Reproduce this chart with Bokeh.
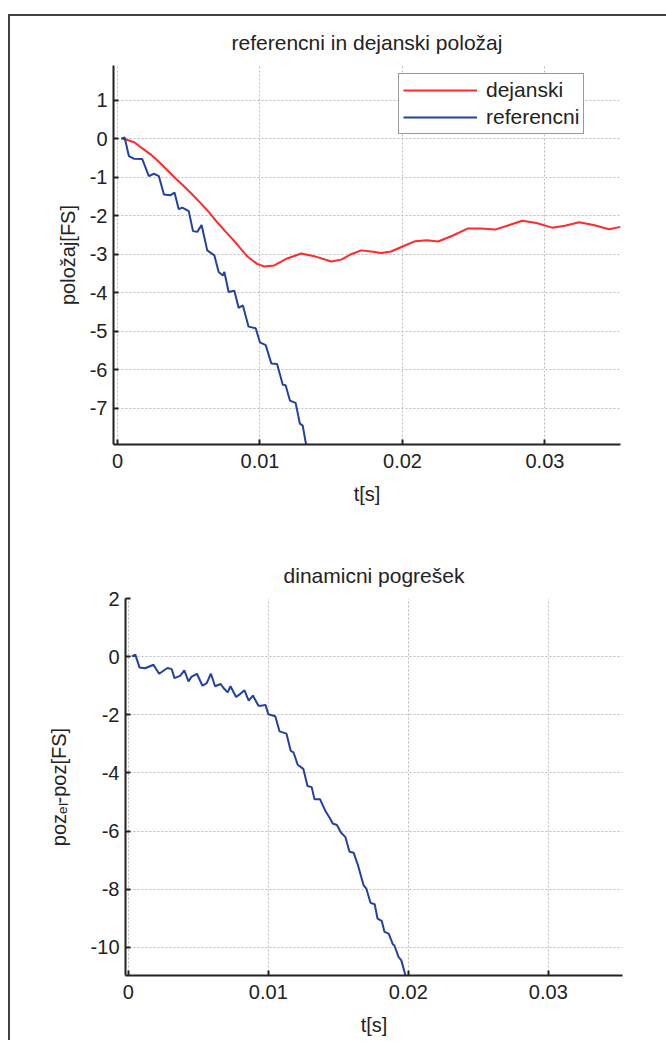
from bokeh.plotting import figure
from bokeh.models import Range1d, FixedTicker, NumeralTickFormatter, Legend, LegendItem
from bokeh.embed import file_html
from bokeh.resources import INLINE

# ---------------- data ----------------
# top plot: actual position (red)
t_act = [0.00033, 0.0006, 0.0012, 0.0017, 0.0023, 0.0029, 0.0035, 0.0041, 0.0047, 0.0053,
         0.0058, 0.0064, 0.0070, 0.0076, 0.0082, 0.0087, 0.0091, 0.0095, 0.0098, 0.0103,
         0.0110, 0.0119, 0.0129, 0.0138, 0.0150, 0.0157, 0.0164, 0.0171, 0.0178, 0.0185,
         0.0192, 0.0200, 0.0209, 0.0217, 0.0225, 0.0235, 0.0246, 0.0255, 0.0265, 0.0275,
         0.0284, 0.0294, 0.0305, 0.0314, 0.0324, 0.0334, 0.0345, 0.0353]
y_act = [0.0, -0.02, -0.10, -0.24, -0.40, -0.60, -0.82, -1.04, -1.25, -1.47,
         -1.66, -1.90, -2.17, -2.42, -2.66, -2.88, -3.05, -3.17, -3.25, -3.32,
         -3.29, -3.11, -2.98, -3.05, -3.19, -3.14, -3.00, -2.90, -2.93, -2.97,
         -2.93, -2.80, -2.66, -2.64, -2.67, -2.52, -2.33, -2.33, -2.36, -2.24,
         -2.13, -2.19, -2.31, -2.26, -2.17, -2.24, -2.35, -2.29]

# top plot: reference position (blue)
t_ref = [0.00026, 0.0005, 0.0008, 0.00115, 0.00174, 0.0022, 0.00256, 0.0029, 0.00326, 0.0037,
         0.0040, 0.0043, 0.00455, 0.0050, 0.0053, 0.0056, 0.0059, 0.0063, 0.0068, 0.0071,
         0.0074, 0.0075, 0.0078, 0.0082, 0.0085, 0.0088, 0.0092, 0.0097, 0.0100, 0.0104,
         0.0108, 0.0112, 0.0116, 0.0118, 0.0121, 0.0125, 0.0128, 0.0130, 0.0132, 0.01335]
y_ref = [0.0, 0.03, -0.45, -0.52, -0.53, -0.97, -0.91, -0.97, -1.45, -1.47,
         -1.40, -1.83, -1.79, -1.88, -2.40, -2.42, -2.24, -2.90, -3.03, -3.46,
         -3.55, -3.46, -3.98, -3.95, -4.39, -4.33, -4.88, -4.92, -5.29, -5.36,
         -5.84, -5.85, -6.39, -6.40, -6.80, -6.86, -7.40, -7.45, -7.87, -8.10]

# bottom plot: dynamic error (blue)
t_err = [0.00026, 0.0005, 0.0008, 0.0012, 0.0018, 0.0022, 0.0028, 0.0031, 0.0033, 0.0037,
         0.0040, 0.0043, 0.0045, 0.0049, 0.0053, 0.0056, 0.0059, 0.0062, 0.0066, 0.0068,
         0.0071, 0.0073, 0.0077, 0.0080, 0.0083, 0.0086, 0.0089, 0.0093, 0.0095, 0.0098,
         0.0100, 0.0105, 0.0108, 0.0113, 0.0116, 0.0118, 0.0121, 0.0125, 0.0128, 0.0131,
         0.0133, 0.0137, 0.0141, 0.0144, 0.0146, 0.0149, 0.0152, 0.0155, 0.0158, 0.0161,
         0.0164, 0.0168, 0.0170, 0.0173, 0.0176, 0.0178, 0.0181, 0.0183, 0.0186, 0.0189,
         0.0190, 0.0193, 0.0195, 0.0198, 0.0200]
y_err = [0.01, 0.07, -0.37, -0.40, -0.28, -0.59, -0.39, -0.43, -0.74, -0.66,
         -0.47, -0.85, -0.70, -0.59, -1.00, -0.91, -0.59, -1.02, -0.94, -1.08,
         -1.23, -1.02, -1.39, -1.28, -1.16, -1.51, -1.34, -1.69, -1.69, -1.66,
         -1.98, -2.05, -2.57, -2.65, -3.24, -3.29, -3.72, -3.86, -4.45, -4.49,
         -4.91, -4.91, -5.33, -5.56, -5.74, -5.79, -6.06, -6.20, -6.71, -6.75,
         -7.17, -7.86, -7.98, -8.47, -8.52, -9.01, -9.09, -9.47, -9.53, -9.90,
         -9.93, -10.33, -10.45, -10.97, -11.3]

x_ticks = [0, 0.01, 0.02, 0.03]
y_ticks_top = [-7, -6, -5, -4, -3, -2, -1, 0, 1]
y_ticks_bot = [-10, -8, -6, -4, -2, 0, 2]

title_top = "referencni in dejanski položaj"
title_bot = "dinamicni pogrešek"
xlabel = "t[s]"
ylabel_top = "položaj[FS]"
ylabel_bot = "pozₑₗ-poz[FS]"
legend_labels = ["dejanski", "referencni"]

RED = "#ff2a2a"
BLUE = "#2142a0"
FONT = "Liberation Sans"
FS = "20px"


def style(p, yticks):
    p.xaxis.ticker = FixedTicker(ticks=x_ticks)
    p.yaxis.ticker = FixedTicker(ticks=yticks)
    p.xaxis.formatter = NumeralTickFormatter(format="0.[00]")
    p.yaxis.formatter = NumeralTickFormatter(format="0")
    for ax in (p.xaxis[0], p.yaxis[0]):
        ax.axis_line_color = "#222222"
        ax.axis_line_width = 2
        ax.major_tick_line_color = "#222222"
        ax.major_tick_line_width = 2
        ax.major_tick_in = 5
        ax.major_tick_out = 0
        ax.minor_tick_line_color = None
        ax.major_label_text_font = FONT
        ax.major_label_text_font_size = FS
        ax.major_label_text_color = "#222222"
        ax.axis_label_text_font = FONT
        ax.axis_label_text_font_size = FS
        ax.axis_label_text_font_style = "normal"
        ax.axis_label_text_color = "#222222"
    p.xaxis.major_label_standoff = 9
    p.yaxis.major_label_standoff = 6
    p.xaxis.axis_label_standoff = 12
    p.grid.grid_line_color = "#bdbdbd"
    p.grid.grid_line_dash = "2 2"
    p.grid.grid_line_width = 1
    p.outline_line_color = None
    p.title.text_font = FONT
    p.title.text_font_size = "21px"
    p.title.text_font_style = "normal"
    p.title.text_color = "#222222"
    p.title.align = "center"


p1 = figure(width=658, height=506, output_backend="svg", toolbar_location=None,
            x_range=Range1d(-0.00028, 0.0353), y_range=Range1d(-7.94, 1.9),
            title=title_top, x_axis_label=xlabel, y_axis_label=ylabel_top,
            min_border_left=103, min_border_right=48, min_border_top=49, min_border_bottom=78,
            styles={"vertical-align": "top", "margin-left": "8px", "margin-top": "14px",
                    "border-left": "2px solid #404040", "border-top": "2px solid #404040"})
style(p1, y_ticks_top)
p1.title.standoff = 23
p1.yaxis.axis_label_standoff = 8

r_act = p1.line(t_act, y_act, line_color=RED, line_width=2)
r_ref = p1.line(t_ref, y_ref, line_color=BLUE, line_width=2)

leg = Legend(items=[LegendItem(label=legend_labels[0], renderers=[r_act]),
                    LegendItem(label=legend_labels[1], renderers=[r_ref])],
             location=(285, 310))
leg.label_text_font = FONT
leg.label_text_font_size = "21px"
leg.label_text_color = "#222222"
leg.border_line_color = "#333333"
leg.border_line_width = 1
leg.padding = 4
leg.spacing = 3
leg.glyph_width = 74
leg.label_standoff = 9
leg.background_fill_alpha = 1.0
p1.add_layout(leg)

p2 = figure(width=658, height=520, output_backend="svg", toolbar_location=None,
            x_range=Range1d(-0.0002, 0.0353), y_range=Range1d(-10.97, 2.0),
            title=title_bot, x_axis_label=xlabel, y_axis_label=ylabel_bot,
            min_border_left=115, min_border_right=46, min_border_top=78, min_border_bottom=65,
            styles={"vertical-align": "top", "margin-left": "8px",
                    "border-left": "2px solid #404040"})
style(p2, y_ticks_bot)
p2.title.standoff = 23
p2.yaxis.axis_label_standoff = 18
p2.line(t_err, y_err, line_color=BLUE, line_width=2)

open("out.html", "w").write(file_html([p1, p2], INLINE))
